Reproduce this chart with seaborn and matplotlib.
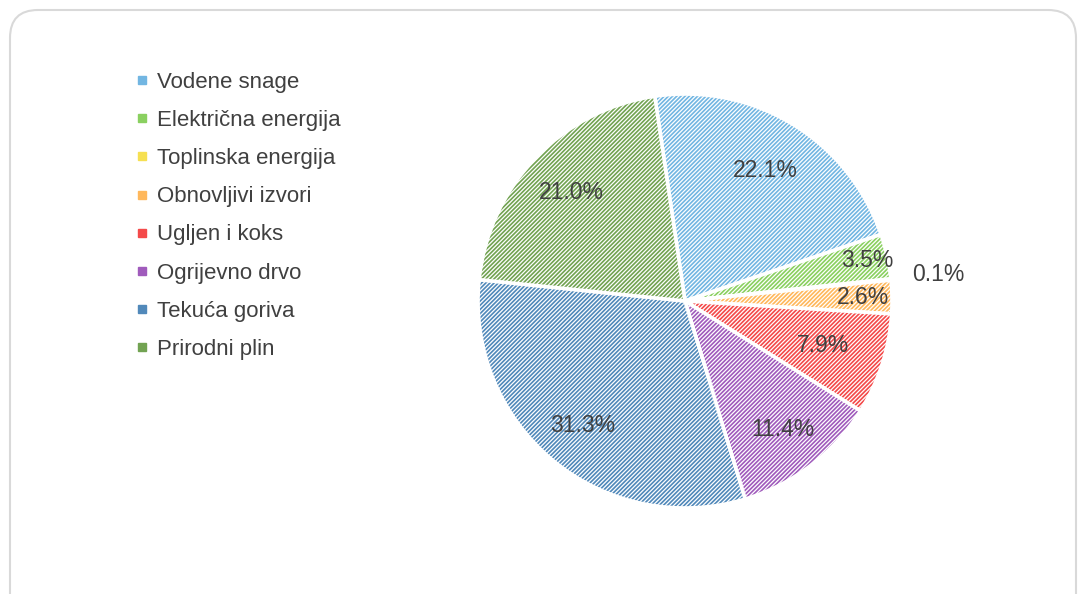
import numpy as np
import seaborn as sns
import matplotlib.pyplot as plt
from matplotlib.lines import Line2D
from matplotlib.patches import FancyBboxPatch
from matplotlib.transforms import IdentityTransform

sources = ['Vodene snage', 'Električna energija', 'Toplinska energija', 'Obnovljivi izvori',
           'Ugljen i koks', 'Ogrijevno drvo', 'Tekuća goriva', 'Prirodni plin']
shares = [22.1, 3.5, 0.1, 2.6, 7.9, 11.4, 31.3, 21.0]
colors = ['#72b6e2', '#8ad060', '#f6e052', '#ffb85c', '#f44a4a', '#a05bbc', '#5189ba', '#72a352']
label_dist = [0.74, 0.90, 1.23, 0.86, 0.70, 0.78, 0.78, 0.76]

sns.set_theme(style='white')
plt.rcParams['font.family'] = ['Liberation Sans', 'DejaVu Sans']
plt.rcParams['hatch.linewidth'] = 0.9

fig = plt.figure(figsize=(10.8, 5.94), dpi=100)

# rounded frame around the chart area
frame = FancyBboxPatch((10, -40), 1066, 624, boxstyle='round,pad=0,rounding_size=28',
                       transform=IdentityTransform(), facecolor='none',
                       edgecolor='#d9d9d9', linewidth=1.5, zorder=-1)
fig.add_artist(frame)

ax = fig.add_axes([(685 - 220) / 1080, (594 - 301 - 220) / 594, 440 / 1080, 440 / 594])
wedges, _ = ax.pie(shares, colors=colors, startangle=98.4, counterclock=False,
                   radius=1.0, wedgeprops=dict(edgecolor='white', linewidth=2.6, hatch='////////'))
ax.set_xlim(-220 / 207, 220 / 207)
ax.set_ylim(-220 / 207, 220 / 207)
ax.set_aspect('equal')
ax.axis('off')

for w, v, d in zip(wedges, shares, label_dist):
    ang = np.deg2rad((w.theta1 + w.theta2) / 2)
    ax.text(d * np.cos(ang), d * np.sin(ang), f'{v:.1f}%', ha='center', va='center',
            fontsize=16.5, color='#404040')

handles = [Line2D([], [], marker='s', linestyle='none', markersize=6,
                  markerfacecolor=c, markeredgecolor=c) for c in colors]
fig.legend(handles, sources, loc='upper left', bbox_to_anchor=(136 / 1080, 1 - 72 / 594),
           frameon=False, fontsize=16, labelcolor='#404040', handlelength=0.5,
           handletextpad=0.45, labelspacing=0.77, borderaxespad=0, borderpad=0)

fig.savefig('out.png', dpi=100)
